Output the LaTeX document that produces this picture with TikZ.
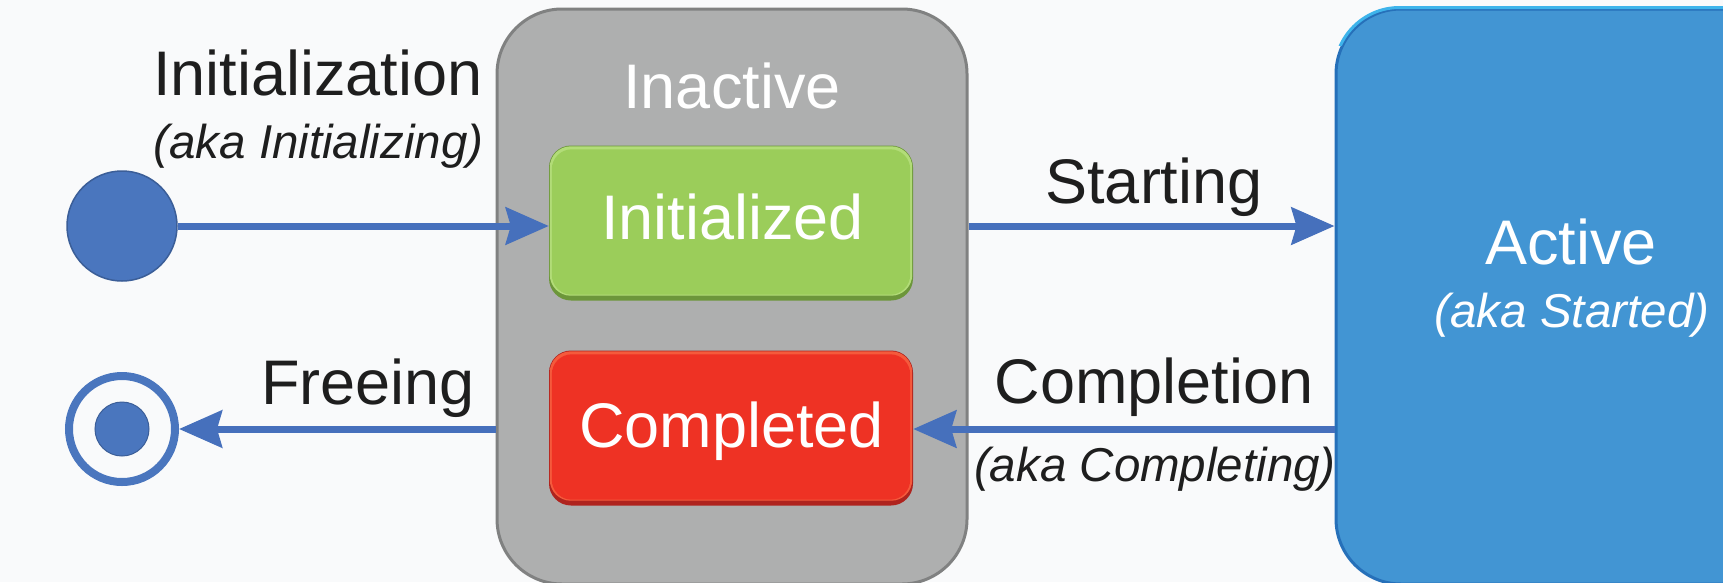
\documentclass[tikz,border=0pt]{standalone}
\usepackage{fontspec}
\setmainfont{Liberation Sans}
\usetikzlibrary{arrows.meta}
\definecolor{bgc}{RGB}{249,250,251}
\definecolor{grayfill}{RGB}{174,175,175}
\definecolor{grayedge}{RGB}{128,129,129}
\definecolor{greenfill}{RGB}{155,205,90}
\definecolor{greenedge}{RGB}{108,150,58}
\definecolor{greenhi}{RGB}{178,220,120}
\definecolor{redfill}{RGB}{238,50,36}
\definecolor{rededge}{RGB}{175,35,30}
\definecolor{redhi}{RGB}{245,90,60}
\definecolor{activefill}{RGB}{66,149,211}
\definecolor{activeedge}{RGB}{38,112,185}
\definecolor{activehi}{RGB}{62,180,235}
\definecolor{ballblue}{RGB}{74,118,190}
\definecolor{arrowblue}{RGB}{70,112,188}
\definecolor{txt}{RGB}{30,30,30}
\tikzset{
  bigbox/.style={rectangle, rounded corners=65pt, minimum width=470pt, minimum height=575pt, line width=3pt, inner sep=0pt},
  statebox/.style={rectangle, rounded corners=22pt, minimum width=364pt, minimum height=155pt, inner sep=0pt},
  maintext/.style={inner sep=0pt, anchor=base, font=\fontsize{63}{70}\selectfont},
  akatext/.style={inner sep=0pt, anchor=base, font=\fontsize{47.5}{54}\selectfont\itshape},
  arr/.style={draw=arrowblue, line width=7pt, -{Stealth[length=43pt, width=37pt, inset=5pt, fill=arrowblue]}},
}
\begin{document}
\begin{tikzpicture}[x=1pt,y=-1pt]
\useasboundingbox (0,0) rectangle (1723,582);
\fill[bgc] (0,0) rectangle (1723,582);
\begin{scope}
\clip (0,0) rectangle (1723,582);
% containers
\node[bigbox, fill=grayfill, draw=grayedge] (inactive) at (732,296.5) {};
\node[bigbox, fill=activefill, draw=activeedge] (active) at (1571,296.5) {};
\begin{scope}
\clip (1330,0) rectangle (1723,45);
\draw[activehi, line width=3pt, rounded corners=65pt] (active.north west) rectangle (active.south east);
\end{scope}
\end{scope}
% inner states (bevelled)
\node[statebox, fill=greenedge] (init) at (731,223) {};
\fill[greenhi, rounded corners=21pt] ([shift={(1,1)}]init.north west) rectangle ([shift={(-1,-5)}]init.south east);
\fill[greenfill, rounded corners=20pt] ([shift={(3,4)}]init.north west) rectangle ([shift={(-3,-6)}]init.south east);
\node[statebox, fill=rededge] (compl) at (731,428) {};
\fill[redhi, rounded corners=21pt] ([shift={(1,1)}]compl.north west) rectangle ([shift={(-1,-5)}]compl.south east);
\fill[redfill, rounded corners=20pt] ([shift={(3,4)}]compl.north west) rectangle ([shift={(-3,-6)}]compl.south east);
% pseudo states
\node[circle, minimum size=110pt, inner sep=0pt, fill=ballblue, draw=ballblue!80!black, line width=1.5pt] (start) at (122,226) {};
\node[circle, minimum size=106pt, inner sep=0pt, draw=ballblue, line width=8pt] (final) at (122,429) {};
\node[circle, minimum size=54pt, inner sep=0pt, fill=ballblue, draw=ballblue!80!black, line width=1pt] (finaldot) at (final) {};
% box texts
\node[maintext, text=white] (tinactive) at (732,108) {Inactive};
\node[maintext, text=white] (tinit) at (732.5,239) {Initialized};
\node[maintext, text=white] (tcompl) at (731.5,447) {Completed};
\node[maintext, text=white] (tactive) at (1571,264) {Active};
\node[akatext, text=white] (tactiveaka) at (1572,327) {(aka Started)};
% transition labels
\node[maintext, text=txt] (linit) at (318,95) {Initialization};
\node[akatext, text=txt] (linitaka) at (318.5,158) {(aka Initializing)};
\node[maintext, text=txt] (lfree) at (368,404) {Freeing};
\node[maintext, text=txt] (lstart) at (1154,203) {Starting};
\node[maintext, text=txt] (lcompl) at (1154,403) {Completion};
\node[akatext, text=txt] (lcomplaka) at (1155,481) {(aka Completing)};
% transitions
\draw[arr] (start) -- (start -| init.west);
\draw[arr] (start -| inactive.east) -- (start -| active.west);
\draw[arr] (final -| active.west) -- (final -| compl.east);
\draw[arr] (final -| inactive.west) -- (final);
\end{tikzpicture}
\end{document}
